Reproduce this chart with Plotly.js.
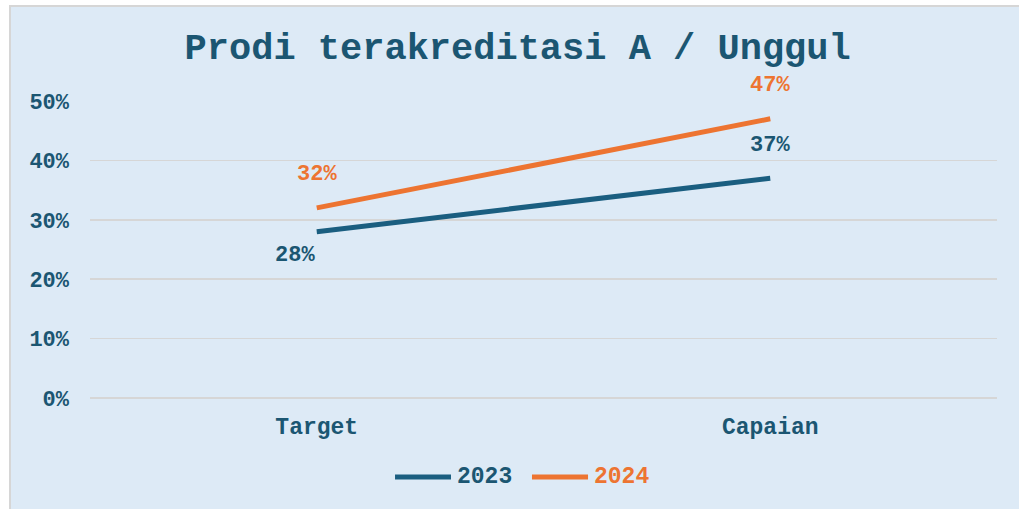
<!DOCTYPE html>
<html>
<head>
<meta charset="utf-8">
<script src="https://cdn.plot.ly/plotly-3.0.1.min.js"></script>
<style>
  html, body { margin:0; padding:0; background:#ffffff; width:1019px; height:509px; overflow:hidden; }
  #bg { position:absolute; left:9px; top:5px; width:1040px; height:540px; background:#DDEAF6; border:2px solid #D6D6D6; }
  #chart { position:absolute; left:0; top:0; width:1019px; height:509px; }
</style>
</head>
<body>
<div id="bg"></div>
<div id="chart"></div>
<script>
const categories = ["Target", "Capaian"];
const series2023 = [0.28, 0.37];
const series2024 = [0.32, 0.47];
const seriesNames = ["2023", "2024"];
const tickValues = [0, 0.1, 0.2, 0.3, 0.4, 0.5];
const tickLabels = ["0%", "10%", "20%", "30%", "40%", "50%"];
const titleText = "Prodi terakreditasi A / Unggul";

const blue = "#1A5E80";
const blueText = "#1B5672";
const orange = "#ED7431";
const FONT = "Liberation Mono, Courier New, monospace";

const traces = [
  { x: categories, y: series2023, type: "scatter", mode: "lines", name: seriesNames[0],
    line: { color: blue, width: 5 }, hoverinfo: "skip", showlegend: false },
  { x: categories, y: series2024, type: "scatter", mode: "lines", name: seriesNames[1],
    line: { color: orange, width: 5 }, hoverinfo: "skip", showlegend: false }
];

const pct = v => Math.round(v * 100) + "%";
const shifts2023 = [[-22, -24], [0, 33]];
const shifts2024 = [[0, 33], [0, 33]];
const annotations = [];
categories.forEach((c, i) => {
  annotations.push({ x: c, y: series2023[i], text: pct(series2023[i]), showarrow: false,
    xshift: shifts2023[i][0], yshift: shifts2023[i][1],
    font: { family: FONT, size: 22, color: blueText, weight: "bold" } });
  annotations.push({ x: c, y: series2024[i], text: pct(series2024[i]), showarrow: false,
    xshift: shifts2024[i][0], yshift: shifts2024[i][1],
    font: { family: FONT, size: 22, color: orange, weight: "bold" } });
});

// custom legend (longer line samples, coloured labels)
const legendColors = [blue, orange];
const legendTextColors = [blueText, orange];
const legendX = [[0.3363, 0.398, 0.4024], [0.4873, 0.5491, 0.5535]];
const legendY = -0.266;
const shapes = [];
seriesNames.forEach((n, i) => {
  shapes.push({ type: "line", xref: "paper", yref: "paper",
    x0: legendX[i][0], x1: legendX[i][1], y0: legendY, y1: legendY,
    line: { color: legendColors[i], width: 5 } });
  annotations.push({ xref: "paper", yref: "paper", x: legendX[i][2], y: legendY,
    xanchor: "left", yanchor: "middle", text: n, showarrow: false,
    font: { family: FONT, size: 23, color: legendTextColors[i], weight: "bold" } });
});

const layout = {
  width: 1019, height: 509,
  paper_bgcolor: "rgba(0,0,0,0)",
  plot_bgcolor: "rgba(0,0,0,0)",
  margin: { l: 90, r: 22, t: 101, b: 111 },
  title: { text: titleText, x: 0.508, xref: "container", xanchor: "center",
    y: 0.91, yref: "container", yanchor: "middle",
    font: { family: FONT, size: 37, color: blueText, weight: "bold" } },
  xaxis: { type: "category", range: [-0.5, 1.5], showgrid: false, zeroline: false,
    showline: false, ticks: "", ticklabelstandoff: 12,
    tickfont: { family: FONT, size: 23, color: blueText, weight: "bold" } },
  yaxis: { range: [0, 0.5], tickvals: tickValues, ticktext: tickLabels,
    showgrid: true, gridcolor: "#D6D6D6", gridwidth: 1.5,
    zeroline: true, zerolinecolor: "#D6D6D6", zerolinewidth: 1.5,
    showline: false, ticks: "", ticklabelstandoff: 20,
    tickfont: { family: FONT, size: 22, color: blueText, weight: "bold" } },
  showlegend: false,
  shapes: shapes,
  annotations: annotations
};

Plotly.newPlot("chart", traces, layout, { staticPlot: true, displayModeBar: false });
</script>
</body>
</html>
